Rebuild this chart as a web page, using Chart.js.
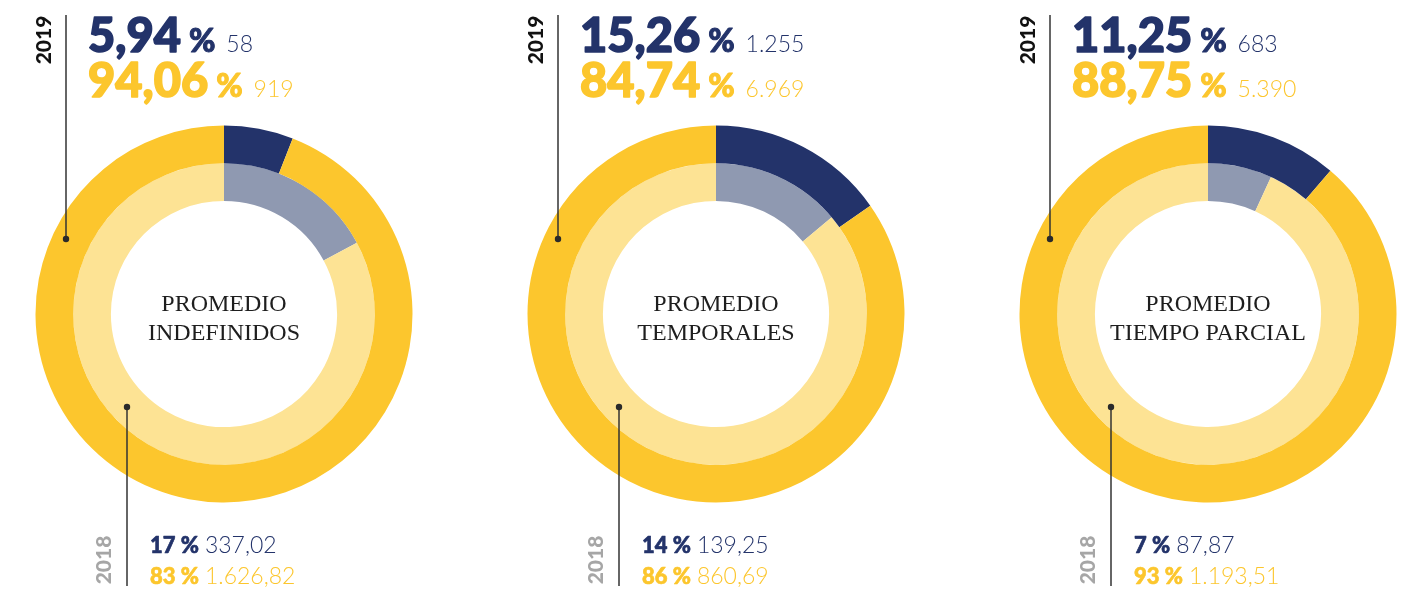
<!DOCTYPE html>
<html>
<head>
<meta charset="utf-8">
<script src="https://cdn.jsdelivr.net/npm/chart.js@4.4.1/dist/chart.umd.min.js"></script>
<style>
  body { margin: 0; background: #fff; overflow: hidden; }
  #wrap { position: relative; width: 1407px; height: 590px; }
  #wrap canvas { position: absolute; top: 0; }
</style>
</head>
<body>
<div id="wrap"></div>
<script>
// data
var titles = [["PROMEDIO", "INDEFINIDOS"], ["PROMEDIO", "TEMPORALES"], ["PROMEDIO", "TIEMPO PARCIAL"]];
var values2019 = [[58, 919], [1255, 6969], [683, 5390]];
var values2018 = [[337.02, 1626.82], [139.25, 860.69], [87.87, 1193.51]];
var pct2019 = [["5,94", "94,06"], ["15,26", "84,74"], ["11,25", "88,75"]];
var count2019 = [["58", "919"], ["1.255", "6.969"], ["683", "5.390"]];
var pct2018 = [["17", "83"], ["14", "86"], ["7", "93"]];
var count2018 = [["337,02", "1.626,82"], ["139,25", "860,69"], ["87,87", "1.193,51"]];

var NAVY = "#23336a", YELLOW = "#fcc62d", PALE = "#fde394", GREY = "#8f99b1";
var centers = [224, 716, 1208];

// draw a row of text pieces one after the other
function run(ctx, parts, x, y) {
  parts.forEach(function (p) {
    ctx.font = p.font;
    ctx.fillStyle = p.color;
    ctx.fillText(p.text, x, y);
    if (p.stroke) {
      ctx.strokeStyle = p.color;
      ctx.lineWidth = p.stroke;
      ctx.lineJoin = "round";
      ctx.strokeText(p.text, x, y);
    }
    x += ctx.measureText(p.text).width + (p.gap || 0);
  });
}

function vlabel(ctx, text, x, y, color) {
  ctx.save();
  ctx.translate(x, y);
  ctx.rotate(-Math.PI / 2);
  ctx.font = "900 21px Lato";
  ctx.fillStyle = color;
  ctx.textAlign = "center";
  ctx.textBaseline = "middle";
  ctx.fillText(text, 0, 0);
  ctx.restore();
}

function dot(ctx, x, y0, y1, yd) {
  ctx.strokeStyle = "#333";
  ctx.lineWidth = 1.5;
  ctx.beginPath();
  ctx.moveTo(x, y0);
  ctx.lineTo(x, y1);
  ctx.stroke();
  ctx.fillStyle = "#2a2a2a";
  ctx.beginPath();
  ctx.arc(x, yd, 3.2, 0, Math.PI * 2);
  ctx.fill();
}

var panelText = {
  id: "panel",
  afterDraw: function (chart, args, opts) {
    var i = opts.index;
    var ctx = chart.ctx;
    var arc = chart.getDatasetMeta(0).data[0];
    var cx = arc.x;
    ctx.save();
    ctx.textBaseline = "alphabetic";

    // centre title
    ctx.textAlign = "center";
    ctx.font = "24px 'Liberation Serif'";
    ctx.fillStyle = "#1e1e1e";
    ctx.fillText(titles[i][0], cx, 311);
    ctx.fillText(titles[i][1], cx, 340);
    ctx.textAlign = "left";

    // 2019 block
    vlabel(ctx, "2019", cx - 180, 40, "#111");
    dot(ctx, cx - 158, 15, 239, 239);
    [NAVY, YELLOW].forEach(function (col, k) {
      run(ctx, [
        { text: pct2019[i][k], font: "900 47px Lato", color: col, gap: 8, stroke: 1.6 },
        { text: "%", font: "900 32px Lato", color: col, gap: 11, stroke: 1 },
        { text: count2019[i][k], font: "300 23px Lato", color: col }
      ], cx - 136, k === 0 ? 52 : 97);
    });

    // 2018 block
    vlabel(ctx, "2018", cx - 120, 560, "#a6a6a6");
    dot(ctx, cx - 97, 407, 586, 407);
    [NAVY, YELLOW].forEach(function (col, k) {
      run(ctx, [
        { text: pct2018[i][k] + " %", font: "900 22px Lato", color: col, gap: 6, stroke: 0.6 },
        { text: count2018[i][k], font: "300 23px Lato", color: col }
      ], cx - 74, k === 0 ? 553 : 584);
    });
    ctx.restore();
  }
};

var wrap = document.getElementById("wrap");
centers.forEach(function (cx, i) {
  var cv = document.createElement("canvas");
  cv.width = 390;
  cv.height = 590;
  cv.style.left = (cx - 200) + "px";
  wrap.appendChild(cv);
  new Chart(cv, {
    type: "doughnut",
    data: {
      labels: ["Azul", "Amarillo"],
      datasets: [
        { label: "2019", data: values2019[i], backgroundColor: [NAVY, YELLOW], borderWidth: 0 },
        { label: "2018", data: values2018[i], backgroundColor: [GREY, PALE], borderWidth: 0 }
      ]
    },
    options: {
      responsive: false,
      animation: false,
      cutout: "60%",
      layout: { padding: { left: 11.5, right: 1.5, top: 125.5, bottom: 87.5 } },
      plugins: {
        legend: { display: false },
        tooltip: { enabled: false },
        panel: { index: i }
      }
    },
    plugins: [panelText]
  });
});
</script>
</body>
</html>
